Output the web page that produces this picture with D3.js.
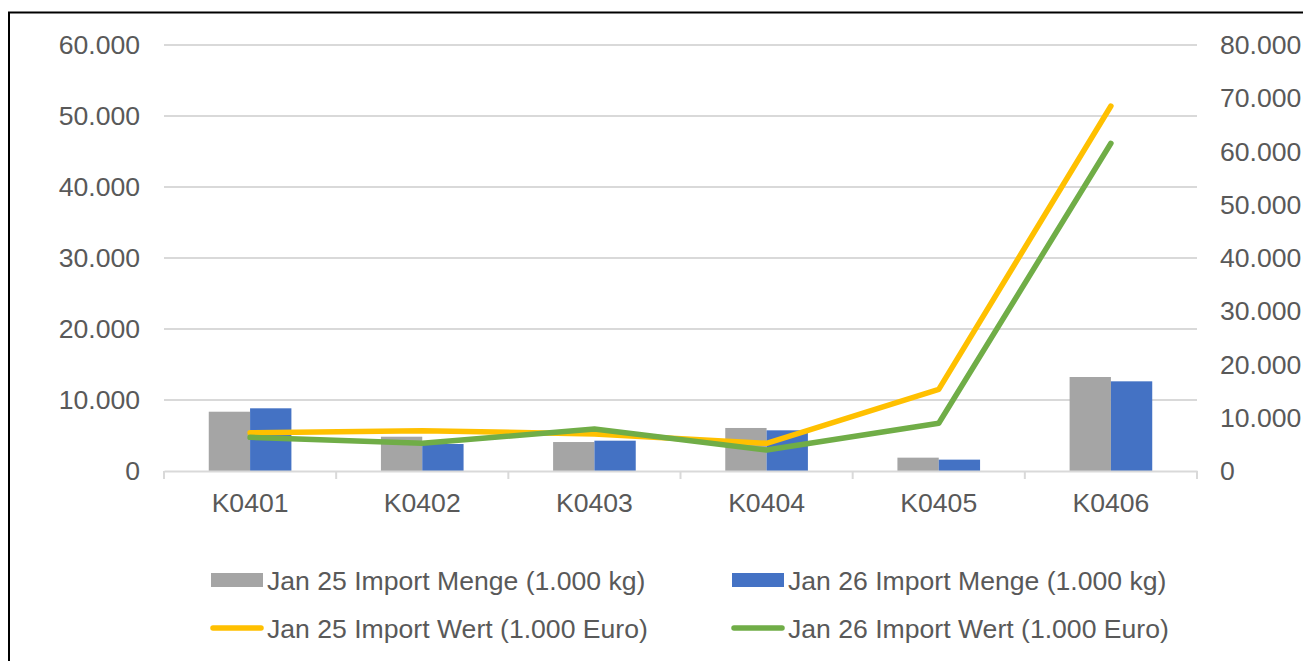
<!DOCTYPE html>
<html>
<head>
<meta charset="utf-8">
<script src="https://cdn.jsdelivr.net/npm/d3@7"></script>
<style>
  html, body { margin: 0; padding: 0; background: #fff; }
  svg { display: block; }
  text { font-family: "Liberation Sans", Arial, sans-serif; fill: #595959; }
</style>
</head>
<body>
<svg id="chart" width="1303" height="661"></svg>
<script>
// Categories and series
const categories = ["K0401", "K0402", "K0403", "K0404", "K0405", "K0406"];
const mengeJan25 = [8350, 4830, 4080, 6060, 1880, 13240];
const mengeJan26 = [8830, 3800, 4270, 5730, 1600, 12630];
const wertJan25 = [7190, 7570, 6950, 5200, 15340, 68540];
const wertJan26 = [6320, 5200, 7890, 3940, 8960, 61540];

const leftTicks = [0, 10000, 20000, 30000, 40000, 50000, 60000];
const rightTicks = [0, 10000, 20000, 30000, 40000, 50000, 60000, 70000, 80000];

const barSeries = [
  { name: "Jan 25 Import Menge (1.000 kg)", values: mengeJan25, color: "#A5A5A5" },
  { name: "Jan 26 Import Menge (1.000 kg)", values: mengeJan26, color: "#4472C4" }
];
const lineSeries = [
  { name: "Jan 25 Import Wert (1.000 Euro)", values: wertJan25, color: "#FFC000" },
  { name: "Jan 26 Import Wert (1.000 Euro)", values: wertJan26, color: "#70AD47" }
];

const FONT_SIZE = "26.6px";

// German number format: thousands separated by "."
const fmt = d3.formatLocale({ decimal: ",", thousands: ".", grouping: [3], currency: ["", " €"] }).format(",.0f");

const svg = d3.select("#chart");
const plot = { left: 164, right: 1197, top: 45, bottom: 471 };

// Outer frame
svg.append("rect")
  .attr("x", 9).attr("y", 12.5)
  .attr("width", 1320).attr("height", 700)
  .attr("fill", "none").attr("stroke", "#000").attr("stroke-width", 2);

const x0 = d3.scaleBand().domain(categories).range([plot.left, plot.right]).paddingInner(0.52).paddingOuter(0.26);
const x1 = d3.scaleBand().domain(barSeries.map(s => s.name)).range([0, x0.bandwidth()]);
const xStep = d3.scaleBand().domain(categories).range([plot.left, plot.right]);
const yL = d3.scaleLinear().domain([0, 60000]).range([plot.bottom, plot.top]);
const yR = d3.scaleLinear().domain([0, 80000]).range([plot.bottom, plot.top]);

// Gridlines (left axis)
svg.append("g").selectAll("line").data(leftTicks.filter(d => d > 0)).join("line")
  .attr("x1", plot.left).attr("x2", plot.right)
  .attr("y1", d => yL(d)).attr("y2", d => yL(d))
  .attr("stroke", "#D9D9D9").attr("stroke-width", 2);

// Left axis labels
const leftAxis = d3.axisLeft(yL).tickValues(leftTicks).tickFormat(fmt).tickSize(0).tickPadding(24);
const gL = svg.append("g").attr("transform", `translate(${plot.left},0)`).call(leftAxis);
gL.select(".domain").remove();
gL.selectAll("text").style("font-size", FONT_SIZE).attr("fill", "#595959").attr("font-family", "Liberation Sans, Arial, sans-serif");

// Right axis labels
const rightAxis = d3.axisRight(yR).tickValues(rightTicks).tickFormat(fmt).tickSize(0).tickPadding(23);
const gR = svg.append("g").attr("transform", `translate(${plot.right},0)`).call(rightAxis);
gR.select(".domain").remove();
gR.selectAll("text").style("font-size", FONT_SIZE).attr("fill", "#595959").attr("font-family", "Liberation Sans, Arial, sans-serif");

// Bars
const groups = svg.append("g").selectAll("g").data(categories).join("g")
  .attr("transform", d => `translate(${x0(d)},0)`);
groups.selectAll("rect")
  .data((c, i) => barSeries.map(s => ({ s, v: s.values[i] })))
  .join("rect")
  .attr("x", d => x1(d.s.name))
  .attr("width", x1.bandwidth())
  .attr("y", d => yL(d.v))
  .attr("height", d => yL(0) - yL(d.v))
  .attr("fill", d => d.s.color);

// Category axis
const xAxis = d3.axisBottom(xStep).tickSize(0).tickPadding(22);
const gX = svg.append("g").attr("transform", `translate(0,${plot.bottom})`).call(xAxis);
gX.select(".domain").attr("stroke", "#D9D9D9").attr("stroke-width", 2);
gX.selectAll("text").style("font-size", FONT_SIZE).attr("fill", "#595959").attr("font-family", "Liberation Sans, Arial, sans-serif");
const bounds = categories.map(c => xStep(c)).concat([plot.right]);
svg.append("g").selectAll("line").data(bounds).join("line")
  .attr("x1", d => d).attr("x2", d => d)
  .attr("y1", plot.bottom).attr("y2", plot.bottom + 8)
  .attr("stroke", "#D9D9D9").attr("stroke-width", 2);

// Lines (right axis)
const line = d3.line()
  .x((d, i) => xStep(categories[i]) + xStep.bandwidth() / 2)
  .y(d => yR(d));
svg.append("g").selectAll("path").data(lineSeries).join("path")
  .attr("d", s => line(s.values))
  .attr("fill", "none")
  .attr("stroke", s => s.color)
  .attr("stroke-width", 5.5)
  .attr("stroke-linecap", "round")
  .attr("stroke-linejoin", "round");

// Legend
const legendItems = [
  { s: barSeries[0], type: "bar", x: 211, y: 580 },
  { s: barSeries[1], type: "bar", x: 732, y: 580 },
  { s: lineSeries[0], type: "line", x: 211, y: 628 },
  { s: lineSeries[1], type: "line", x: 732, y: 628 }
];
const lg = svg.append("g").selectAll("g").data(legendItems).join("g")
  .attr("transform", d => `translate(${d.x},${d.y})`);
lg.filter(d => d.type === "bar").append("rect")
  .attr("x", 0).attr("y", -7).attr("width", 52).attr("height", 14)
  .attr("fill", d => d.s.color);
lg.filter(d => d.type === "line").append("line")
  .attr("x1", 2).attr("x2", 50).attr("y1", 0).attr("y2", 0)
  .attr("stroke", d => d.s.color).attr("stroke-width", 5.5).attr("stroke-linecap", "round");
lg.append("text")
  .attr("x", 56).attr("y", 9.5)
  .style("font-size", FONT_SIZE)
  .text(d => d.s.name);
</script>
</body>
</html>
